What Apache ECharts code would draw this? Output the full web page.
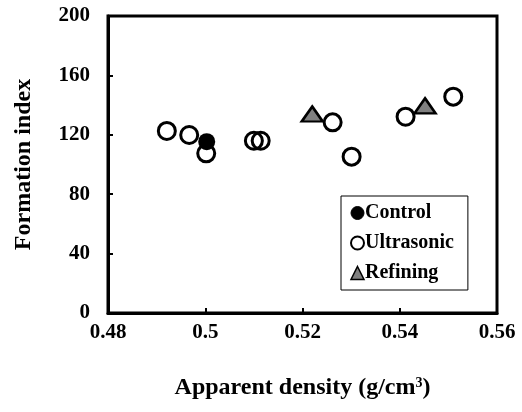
<!DOCTYPE html>
<html><head><meta charset="utf-8">
<script src="https://cdn.jsdelivr.net/npm/echarts@6/dist/echarts.min.js"></script>
<style>html,body{margin:0;padding:0;background:#fff}#c{width:522px;height:412px}</style>
</head><body><div id="c"></div>
<script>
var controlData = [[0.5003, 115.4]];
var ultrasonicData = [[0.4921, 122.6],[0.4967, 119.9],[0.5002, 107.5],[0.5100, 116],[0.5114, 116],[0.5262, 128.4],[0.5301, 105.3],[0.5412, 132.2],[0.5510, 145.7]];
var refiningData = [[0.5220, 134],[0.5452, 139.5]];
var xTicks = [0.48, 0.50, 0.52, 0.54, 0.56];
var yTicks = [0, 40, 80, 120, 160, 200];

var FONT = "'Liberation Serif','Times New Roman',serif";
var chart = echarts.init(document.getElementById('c'));
chart.setOption({
  animation: false,
  grid: {left: 108, right: 25, top: 16, bottom: 99, show: true, borderColor: '#000', borderWidth: 3, backgroundColor: 'transparent'},
  xAxis: {
    type: 'value', min: xTicks[0], max: xTicks[xTicks.length - 1], interval: 0.02,
    axisLine: {show: true, lineStyle: {color: '#000', width: 3}},
    axisTick: {show: true, inside: true, length: 5, lineStyle: {color: '#000', width: 2}},
    splitLine: {show: false},
    axisLabel: {color: '#000', fontFamily: FONT, fontWeight: 'bold', fontSize: 21, margin: 9,
      formatter: function (v) { return String(parseFloat(v.toFixed(2))); }},
    name: '{t|Apparent density (g/cm}{s|3}{t|)}', nameLocation: 'middle', nameGap: 63,
    nameTextStyle: {rich: {
      t: {fontFamily: FONT, fontWeight: 'bold', fontSize: 24, color: '#000', verticalAlign: 'bottom'},
      s: {fontFamily: FONT, fontWeight: 'bold', fontSize: 14, color: '#000', verticalAlign: 'top', padding: [0,0,10,0]}
    }}
  },
  yAxis: {
    type: 'value', min: yTicks[0], max: yTicks[yTicks.length - 1], interval: 40,
    axisLine: {show: true, lineStyle: {color: '#000', width: 3}},
    axisTick: {show: true, inside: true, length: 5, lineStyle: {color: '#000', width: 2}},
    splitLine: {show: false},
    axisLabel: {color: '#000', fontFamily: FONT, fontWeight: 'bold', fontSize: 21, margin: 18},
    name: 'Formation index', nameLocation: 'middle', nameGap: 72, nameRotate: 90,
    nameTextStyle: {fontFamily: FONT, fontWeight: 'bold', fontSize: 24, color: '#000'}
  },
  legend: {
    orient: 'vertical', left: 341, top: 196,
    borderColor: '#000', borderWidth: 1, padding: [7, 14, 7, 9], itemGap: 10,
    itemWidth: 13, itemHeight: 13,
    textStyle: {fontFamily: FONT, fontWeight: 'bold', fontSize: 20, color: '#000', padding: [0,0,0,-4]},
    data: [
      {name: 'Control', icon: 'circle', itemStyle: {color: '#000', borderColor: '#000', borderWidth: 1}},
      {name: 'Ultrasonic', icon: 'circle', itemStyle: {color: '#fff', borderColor: '#000', borderWidth: 2}},
      {name: 'Refining', icon: 'triangle', itemStyle: {color: '#808080', borderColor: '#000', borderWidth: 1.5}}
    ]
  },
  series: [
    {name: 'Control', type: 'scatter', data: controlData, symbol: 'circle', symbolSize: 17,
      itemStyle: {color: '#000', opacity: 1}},
    {name: 'Ultrasonic', type: 'scatter', data: ultrasonicData, symbol: 'circle', symbolSize: 17,
      itemStyle: {color: 'rgba(255,255,255,0)', borderColor: '#000', borderWidth: 3, opacity: 1}},
    {name: 'Refining', type: 'scatter', data: refiningData, symbol: 'triangle', symbolSize: [21, 15],
      itemStyle: {color: '#808080', borderColor: '#000', borderWidth: 2.5, opacity: 1}}
  ]
});
</script></body></html>
